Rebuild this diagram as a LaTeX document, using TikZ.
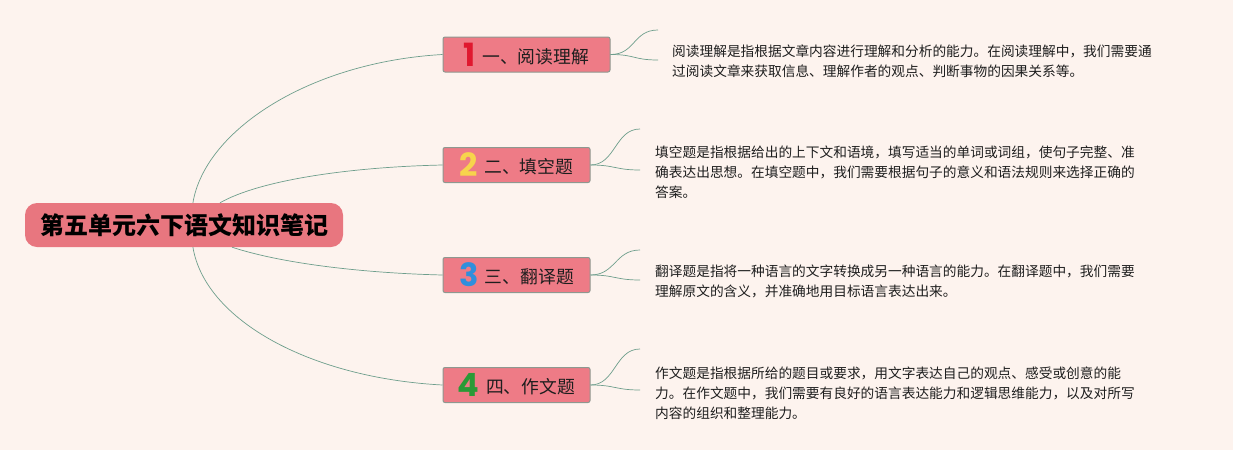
\documentclass[tikz,border=0pt]{standalone}
\usepackage{fontspec}
\setmainfont{Noto Sans CJK SC}
\newfontfamily\numfont{Poppins}
\usetikzlibrary{calc}
\definecolor{bgc}{HTML}{FDF3EE}
\definecolor{rootc}{HTML}{E8767F}
\definecolor{branchc}{HTML}{EE7B86}
\definecolor{bordc}{HTML}{8E9890}
\definecolor{linkc}{HTML}{6E9E8C}
\definecolor{txtc}{HTML}{1E1E1E}
\definecolor{nA}{HTML}{E0182F}
\definecolor{nB}{HTML}{F7D44C}
\definecolor{nC}{HTML}{2F8FDC}
\definecolor{nD}{HTML}{2A9A36}
\newcommand{\bnum}[2]{\raisebox{-3pt}{\numfont\bfseries\fontsize{32}{32}\selectfont\color{#1}#2}\hspace{6.5pt}}
\begin{document}
\begin{tikzpicture}[x=1pt,y=-1pt,
  link/.style={draw=linkc, line width=0.7pt},
  rootbox/.style={fill=rootc, rounded corners=12pt, minimum width=318pt, minimum height=44pt, inner sep=0pt, text=black, font=\fontsize{24}{26}\selectfont\bfseries},
  branchbox/.style={draw=bordc, line width=1pt, rounded corners=2pt, fill=branchc, minimum height=35pt, inner sep=0pt, text=txtc, font=\fontsize{17.8}{20}\selectfont},
  desc/.style={anchor=north west, inner sep=0pt, align=left, text=txtc, font=\fontsize{13.7}{20}\selectfont}]
\fill[bgc] (0,0) rectangle (1233,450);
\useasboundingbox (0,0) rectangle (1233,450);

\node[rootbox] (root) at (184,225) {第五单元六下语文知识笔记};

\node[branchbox, minimum width=167pt] (b1) at (526.5,54.5) {\bnum{nA}{1}一、阅读理解};
\node[branchbox, minimum width=147pt] (b2) at (516.5,165) {\bnum{nB}{2}二、填空题};
\node[branchbox, minimum width=147pt] (b3) at (516.5,275) {\bnum{nC}{3}三、翻译题};
\node[branchbox, minimum width=147pt] (b4) at (516.5,385) {\bnum{nD}{4}四、作文题};

\coordinate (r1) at ($(root.north west)!0.528!(root.north east)$);
\coordinate (r2) at ($(root.north west)!0.613!(root.north east)$);
\coordinate (r3) at ($(root.south west)!0.651!(root.south east)$);
\coordinate (r4) at ($(root.south west)!0.528!(root.south east)$);

\draw[link] (r1) .. controls (205,130) and (310,62) .. (b1.west);
\draw[link] (r2) .. controls (260,180) and (350,167) .. (b2.west);
\draw[link] (r3) .. controls (280,263) and (360,273) .. (b3.west);
\draw[link] (r4) .. controls (205,320) and (310,378) .. (b4.west);

\coordinate (u1) at (658,30);  \coordinate (l1) at (658,60);
\coordinate (u2) at (640,129); \coordinate (l2) at (640,170);
\coordinate (u3) at (640,250); \coordinate (l3) at (640,280);
\coordinate (u4) at (640,349); \coordinate (l4) at (640,390);

\foreach \b/\u/\l in {b1/u1/l1, b2/u2/l2, b3/u3/l3, b4/u4/l4}{
  \draw[link] (\b.east) .. controls ($(\b.east)+(25,0)$) and ($(\u)+(-25,0)$) .. (\u);
  \draw[link] (\b.east) .. controls ($(\b.east)+(25,0)$) and ($(\l)+(-25,0)$) .. (\l);
}

\node[desc] (t1) at (672,45) {阅读理解是指根据文章内容进行理解和分析的能力。在阅读理解中，我们需要通\\过阅读文章来获取信息、理解作者的观点、判断事物的因果关系等。};
\node[desc] (t2) at (655,146) {填空题是指根据给出的上下文和语境，填写适当的单词或词组，使句子完整、准\\确表达出思想。在填空题中，我们需要根据句子的意义和语法规则来选择正确的\\答案。};
\node[desc] (t3) at (655,265) {翻译题是指将一种语言的文字转换成另一种语言的能力。在翻译题中，我们需要\\理解原文的含义，并准确地用目标语言表达出来。};
\node[desc] (t4) at (655,366.5) {作文题是指根据所给的题目或要求，用文字表达自己的观点、感受或创意的能\\力。在作文题中，我们需要有良好的语言表达能力和逻辑思维能力，以及对所写\\内容的组织和整理能力。};
\end{tikzpicture}
\end{document}
